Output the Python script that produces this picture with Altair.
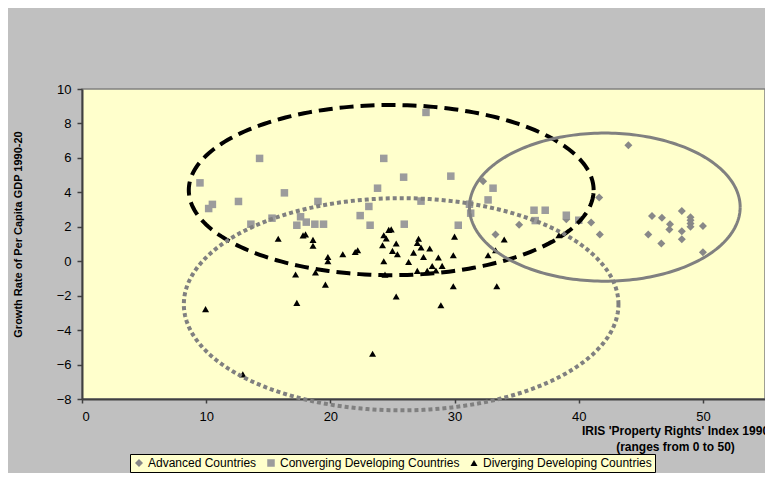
import altair as alt
import pandas as pd
import numpy as np

# ---- data ----
groups = ["Advanced Countries", "Converging Developing Countries", "Diverging Developing Countries"]

adv_x = [32.3, 33.3, 35.2, 39.0, 41.0, 41.65, 41.7, 44.0, 45.6, 45.9, 46.65, 46.7,
         47.3, 47.35, 48.3, 48.3, 48.3, 49.0, 49.0, 49.0, 49.0, 50.0, 50.0]
adv_y = [4.64, 1.55, 2.12, 2.43, 2.25, 3.7, 1.55, 6.74, 1.55, 2.63, 1.03, 2.52,
         1.84, 2.15, 2.92, 1.74, 1.28, 2.56, 2.38, 2.19, 2.0, 2.05, 0.52]

conv_x = [9.5, 10.2, 10.5, 12.6, 13.6, 14.3, 15.3, 16.3, 17.3, 17.6, 18.06, 18.75,
          19.0, 19.45, 22.4, 23.1, 23.2, 23.8, 24.3, 25.9, 25.95, 27.3, 27.7, 29.7,
          30.3, 31.2, 31.3, 32.7, 33.1, 36.4, 36.5, 37.3, 39.0, 40.0]
conv_y = [4.55, 3.06, 3.3, 3.47, 2.15, 5.97, 2.5, 3.97, 2.09, 2.58, 2.27, 2.15,
          3.47, 2.15, 2.65, 3.18, 2.09, 4.24, 5.97, 4.88, 2.15, 3.49, 8.64, 4.94,
          2.09, 3.31, 2.79, 3.56, 4.24, 2.96, 2.36, 2.96, 2.67, 2.38]

div_x = [9.95, 12.95, 15.8, 17.2, 17.3, 17.8, 18.0, 18.6, 18.6, 18.8, 19.6, 19.8,
         19.8, 21.0, 22.0, 22.2, 23.4, 24.2, 24.3, 24.3, 24.4, 24.5, 24.7, 24.9,
         25.0, 25.3, 25.3, 25.4, 26.3, 26.7, 27.0, 27.0, 27.1, 27.3, 27.5, 27.8,
         28.0, 28.2, 28.5, 28.7, 28.9, 29.0, 29.9, 29.9, 30.0, 32.7, 33.3, 33.4,
         34.0, 38.4]
div_y = [-2.78, -6.57, 1.3, -0.77, -2.42, 1.5, 1.56, 1.24, 0.9, -0.66, -1.36, 0.25,
         0.0, 0.41, 0.54, 0.64, -5.37, 0.93, 1.51, 0.0, -0.78, 1.32, 1.82, 1.85,
         0.6, 1.03, -2.05, 0.41, -0.05, 0.5, 1.06, -0.56, 1.3, 0.8, 0.25, -0.56,
         0.74, -0.28, -0.54, 0.22, -2.56, -0.27, 0.35, -1.45, 1.43, 0.35, 0.64, -1.45,
         1.26, 1.51]

# ellipse annotations: centre and radii in data units
ell_cx = [24.9, 25.7, 42.1]
ell_cy = [4.13, -2.5, 3.14]
ell_rx = [16.3, 17.5, 10.9]
ell_ry = [4.94, 6.16, 4.3]

x_ticks = [0, 10, 20, 30, 40, 50]
y_ticks = [-8, -6, -4, -2, 0, 2, 4, 6, 8, 10]

# ---- tables ----
pts = pd.concat([
    pd.DataFrame({"x": adv_x, "y": adv_y, "group": groups[0]}),
    pd.DataFrame({"x": conv_x, "y": conv_y, "group": groups[1]}),
    pd.DataFrame({"x": div_x, "y": div_y, "group": groups[2]}),
], ignore_index=True)

t = np.linspace(0, 2 * np.pi, 241)
def ellipse(k):
    return pd.DataFrame({"x": ell_cx[k] + ell_rx[k] * np.cos(t),
                         "y": ell_cy[k] + ell_ry[k] * np.sin(t),
                         "i": np.arange(len(t))})

FONT = "Liberation Sans"

xenc = alt.X("x:Q",
             scale=alt.Scale(domain=[0, 55], nice=False, zero=False),
             axis=alt.Axis(values=x_ticks, grid=False,
                           title=["IRIS 'Property Rights' Index 1990", "(ranges from 0 to 50)"],
                           titleX=593, titleY=26, titleAlign="center", titleBaseline="top",
                           titleFontSize=12, titleFontWeight="bold", titleLineHeight=16,
                           labelFontSize=13, labelPadding=7, tickSize=4))
yenc = alt.Y("y:Q",
             scale=alt.Scale(domain=[-8, 10], nice=False, zero=False),
             axis=alt.Axis(values=y_ticks, grid=False,
                           title="Growth Rate of Per Capita GDP 1990-20",
                           titleX=-64, titleY=145, titleAngle=270,
                           titleAlign="center", titleBaseline="middle",
                           titleFontSize=11, titleFontWeight="bold",
                           labelFontSize=13, labelPadding=6, tickSize=5))

leg = alt.Legend(title=None, orient="none", legendX=48, legendY=365,
                 direction="horizontal", fillColor="#FFFFCC",
                 strokeColor="#000000", padding=3,
                 labelFontSize=12, labelFont=FONT, labelLimit=0,
                 symbolSize=30, columnPadding=8, labelOffset=3)

points = alt.Chart(pts).mark_point(filled=True, opacity=1).encode(
    x=xenc, y=yenc,
    color=alt.Color("group:N",
                    scale=alt.Scale(domain=groups, range=["#888888", "#9C9C9C", "#000000"]),
                    legend=leg),
    shape=alt.Shape("group:N",
                    scale=alt.Scale(domain=groups, range=["diamond", "square", "triangle-up"]),
                    legend=leg),
    size=alt.Size("group:N", scale=alt.Scale(domain=groups, range=[64, 49, 100]), legend=None),
)

dashed = alt.Chart(ellipse(0)).mark_line(color="#000000", strokeWidth=4,
                                         strokeDash=[14, 7], strokeCap="butt").encode(
    x=xenc, y=yenc, order="i:Q")
dotted = alt.Chart(ellipse(1)).mark_line(color="#808080", strokeWidth=4,
                                         strokeDash=[4, 3], strokeCap="butt").encode(
    x=xenc, y=yenc, order="i:Q")
solid = alt.Chart(ellipse(2)).mark_line(color="#808080", strokeWidth=3).encode(
    x=xenc, y=yenc, order="i:Q")

chart = alt.layer(points, dashed, dotted, solid).properties(
    width=683, height=310,
    autosize=alt.AutoSizeParams(type="none"),
    padding={"left": 74, "top": 81, "right": 0, "bottom": 74},
    background="#C0C0C0",
).configure_view(
    fill="#FFFFCC", stroke="#808080", strokeWidth=1.5
).configure_axis(
    labelFont=FONT, titleFont=FONT, labelColor="#000000", titleColor="#000000",
    domainColor="#404040", domainWidth=2, tickColor="#404040", tickWidth=1.5
)

chart.save("out.html", embed_options={"renderer": "svg", "actions": False})
